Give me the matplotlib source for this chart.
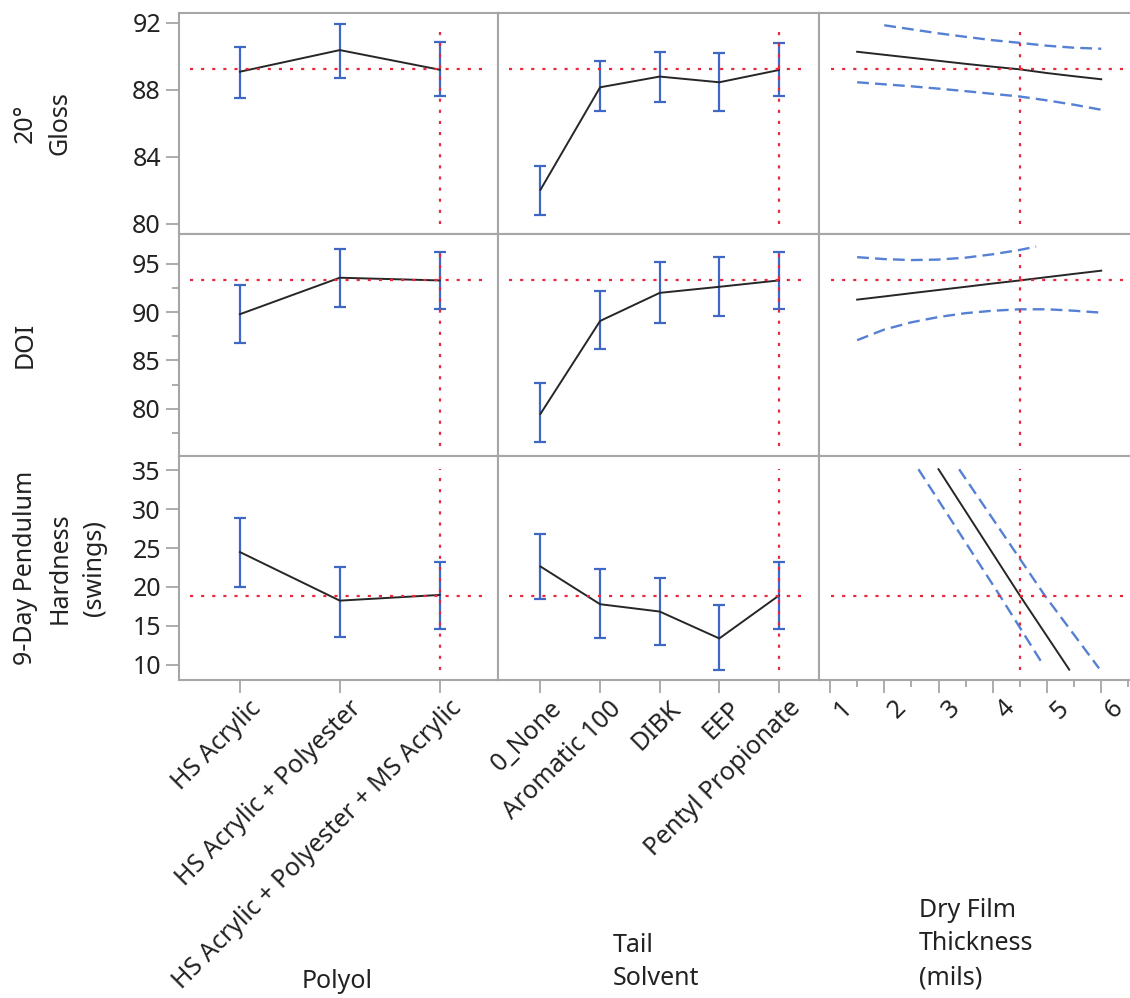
import numpy as np
import matplotlib
matplotlib.use('Agg')
import matplotlib.pyplot as plt
import matplotlib.transforms as mtransforms
from matplotlib.ticker import FixedLocator

plt.rcParams['font.family'] = ['Noto Sans', 'DejaVu Sans']

# categories
polyol = ['HS Acrylic', 'HS Acrylic + Polyester', 'HS Acrylic + Polyester + MS Acrylic']
solvent = ['0_None', 'Aromatic 100', 'DIBK', 'EEP', 'Pentyl Propionate']

# 20° Gloss
gloss_polyol = [89.08, 90.37, 89.2]
gloss_polyol_lo = [87.5, 88.69, 87.65]
gloss_polyol_hi = [90.54, 91.9, 90.83]
gloss_solvent = [82.04, 88.15, 88.79, 88.45, 89.18]
gloss_solvent_lo = [80.55, 86.74, 87.26, 86.74, 87.65]
gloss_solvent_hi = [83.43, 89.74, 90.27, 90.18, 90.81]

# DOI
doi_polyol = [89.79, 93.57, 93.29]
doi_polyol_lo = [86.8, 90.52, 90.31]
doi_polyol_hi = [92.8, 96.54, 96.26]
doi_solvent = [79.47, 89.09, 92.0, 92.63, 93.29]
doi_solvent_lo = [76.5, 86.2, 88.9, 89.6, 90.31]
doi_solvent_hi = [82.7, 92.15, 95.18, 95.7, 96.26]

# 9-Day Pendulum Hardness
hard_polyol = [24.48, 18.25, 18.98]
hard_polyol_lo = [20.0, 13.6, 14.6]
hard_polyol_hi = [28.87, 22.6, 23.2]
hard_solvent = [22.63, 17.79, 16.85, 13.4, 18.9]
hard_solvent_lo = [18.4, 13.4, 12.6, 9.36, 14.6]
hard_solvent_hi = [26.84, 22.3, 21.1, 17.7, 23.2]

# Dry Film Thickness profiles
dft = [1.5, 2, 2.5, 3, 3.5, 4, 4.5, 5, 5.5, 6]
gloss_dft = [90.27, 90.09, 89.91, 89.73, 89.55, 89.38, 89.22, 89.0, 88.81, 88.63]
gloss_dft_hi = [np.nan, 91.85, 91.61, 91.37, 91.16, 90.96, 90.8, 90.63, 90.51, 90.45]
gloss_dft_lo = [88.45, 88.33, 88.21, 88.07, 87.92, 87.76, 87.6, 87.37, 87.11, 86.81]
doi_dft = [91.3, 91.63, 91.97, 92.3, 92.63, 92.97, 93.29, 93.63, 93.97, 94.3]
doi_dft_hi_x = [1.5, 2, 2.5, 3, 3.5, 4, 4.5, 4.8]
doi_dft_hi = [95.7, 95.5, 95.4, 95.45, 95.65, 96.0, 96.45, 96.8]
doi_dft_lo = [87.1, 88.2, 88.95, 89.5, 89.9, 90.15, 90.3, 90.3, 90.15, 89.95]
hard_dft_x = [3.0, 4.5, 5.41]
hard_dft = [35.1, 18.9, 9.4]
hard_dft_lo_x = [2.63, 4.13, 4.94]
hard_dft_lo = [35.1, 18.9, 9.9]
hard_dft_hi_x = [3.38, 4.96, 5.96]
hard_dft_hi = [35.1, 18.9, 9.56]

current = [89.22, 93.29, 18.9]
dft_current = 4.5

row_labels = ['20°\nGloss', 'DOI', '9-Day Pendulum\nHardness\n(swings)']
ylims = [(79.4, 92.6), (75.1, 98.1), (8.07, 36.8)]
yticks = [[80, 84, 88, 92], [80, 85, 90, 95], [10, 15, 20, 25, 30, 35]]

W, H = 1130, 998
col_x = [(179, 498), (498, 819), (819, 1130)]
row_y = [(12.7, 234), (234, 456), (456, 680)]

frame_c = '#a6a6a6'
blue = '#3f67c4'
dash_blue = '#5580d4'
red = '#e8283c'
text_c = '#222222'
fs = 18

fig = plt.figure(figsize=(W / 100, H / 100), dpi=100)

cat_data = [
    [(gloss_polyol, gloss_polyol_lo, gloss_polyol_hi), (gloss_solvent, gloss_solvent_lo, gloss_solvent_hi)],
    [(doi_polyol, doi_polyol_lo, doi_polyol_hi), (doi_solvent, doi_solvent_lo, doi_solvent_hi)],
    [(hard_polyol, hard_polyol_lo, hard_polyol_hi), (hard_solvent, hard_solvent_lo, hard_solvent_hi)],
]
cont_data = [
    [(dft, gloss_dft), (dft[1:], gloss_dft_hi[1:]), (dft, gloss_dft_lo)],
    [(dft, doi_dft), (doi_dft_hi_x, doi_dft_hi), (dft, doi_dft_lo)],
    [(hard_dft_x, hard_dft), (hard_dft_hi_x, hard_dft_hi), (hard_dft_lo_x, hard_dft_lo)],
]
xlims = [(-0.61, 2.584), (-0.713, 4.673), (0.797, 6.53)]
shift = mtransforms.ScaledTranslation(9 / 100, 0, fig.dpi_scale_trans)

for r in range(3):
    y0, y1 = row_y[r]
    for c in range(3):
        x0, x1 = col_x[c]
        ax = fig.add_axes([x0 / W, 1 - y1 / H, (x1 - x0) / W, (y1 - y0) / H])
        for s in ax.spines.values():
            s.set_color(frame_c)
            s.set_linewidth(1.5)
        if c == 2:
            ax.spines['right'].set_visible(False)
        ax.set_xlim(*xlims[c])
        ax.set_ylim(*ylims[r])

        if c < 2:
            vals, lo, hi = cat_data[r][c]
            xs = np.arange(len(vals))
            vals = np.array(vals); lo = np.array(lo); hi = np.array(hi)
            ax.errorbar(xs, vals, yerr=[vals - lo, hi - vals], fmt='none', ecolor=blue,
                        elinewidth=1.6, capsize=4.5, capthick=1.6, zorder=2)
            ax.plot(xs, vals, color='#262626', lw=1.4, zorder=3)
            ax.axhline(current[r], xmin=0.033, xmax=0.965, color=red, lw=1.6,
                       linestyle=(0, (1.4, 3.6)), zorder=4)
            ax.axvline(xs[-1], ymin=0.045, ymax=0.94, color=red, lw=1.6,
                       linestyle=(0, (1.4, 3.6)), zorder=4)
            ax.xaxis.set_major_locator(FixedLocator(xs))
            ax.set_xticklabels(polyol if c == 0 else solvent)
        else:
            (px, py), (hx, hy), (lx, ly) = cont_data[r]
            ax.plot(hx, hy, color=dash_blue, lw=1.7, linestyle=(0, (5, 2.6)), zorder=2)
            ax.plot(lx, ly, color=dash_blue, lw=1.7, linestyle=(0, (5, 2.6)), zorder=2)
            ax.plot(px, py, color='#262626', lw=1.4, zorder=3)
            ax.axhline(current[r], xmin=0.04, xmax=1.0, color=red, lw=1.6,
                       linestyle=(0, (1.4, 3.6)), zorder=4)
            ax.axvline(dft_current, ymin=0.045, ymax=0.94, color=red, lw=1.6,
                       linestyle=(0, (1.4, 3.6)), zorder=4)
            ax.xaxis.set_major_locator(FixedLocator([1, 2, 3, 4, 5, 6]))
            ax.xaxis.set_minor_locator(FixedLocator([1.5, 2.5, 3.5, 4.5, 5.5, 6.5]))

        ax.yaxis.set_major_locator(FixedLocator(yticks[r]))
        if r == 1:
            ax.yaxis.set_minor_locator(FixedLocator([77.5, 82.5, 87.5, 92.5]))
        ax.tick_params(which='both', direction='out', color=frame_c, width=1.3,
                       labelcolor=text_c)
        ax.tick_params(which='major', length=9.5, labelsize=fs, pad=3.5)
        ax.tick_params(which='minor', length=5)

        if c != 0:
            ax.tick_params(axis='y', which='both', left=False, labelleft=False)
        if r != 2:
            ax.tick_params(axis='x', which='both', bottom=False, labelbottom=False)
        else:
            ax.tick_params(axis='x', which='major', pad=2)
            for lab in ax.get_xticklabels():
                lab.set_rotation(45)
                lab.set_rotation_mode('anchor')
                lab.set_ha('right')
                lab.set_va('top')
                lab.set_fontsize(fs)
                lab.set_transform(lab.get_transform() + shift)

    fig.text(13 / W, 1 - (y0 + y1) / 2 / H, row_labels[r], rotation=90, ha='left',
             va='center', multialignment='center', fontsize=fs, color=text_c,
             linespacing=1.5)

fig.text(337 / W, 1 - 981 / H, 'Polyol', ha='center', va='center', fontsize=fs, color=text_c)
fig.text(613 / W, 1 - 962 / H, 'Tail\nSolvent', ha='left', va='center', fontsize=fs,
         color=text_c, linespacing=1.46)
fig.text(919 / W, 1 - 944 / H, 'Dry Film\nThickness\n(mils)', ha='left', va='center',
         fontsize=fs, color=text_c, linespacing=1.46)

fig.savefig('out.png', dpi=100, facecolor='white')
